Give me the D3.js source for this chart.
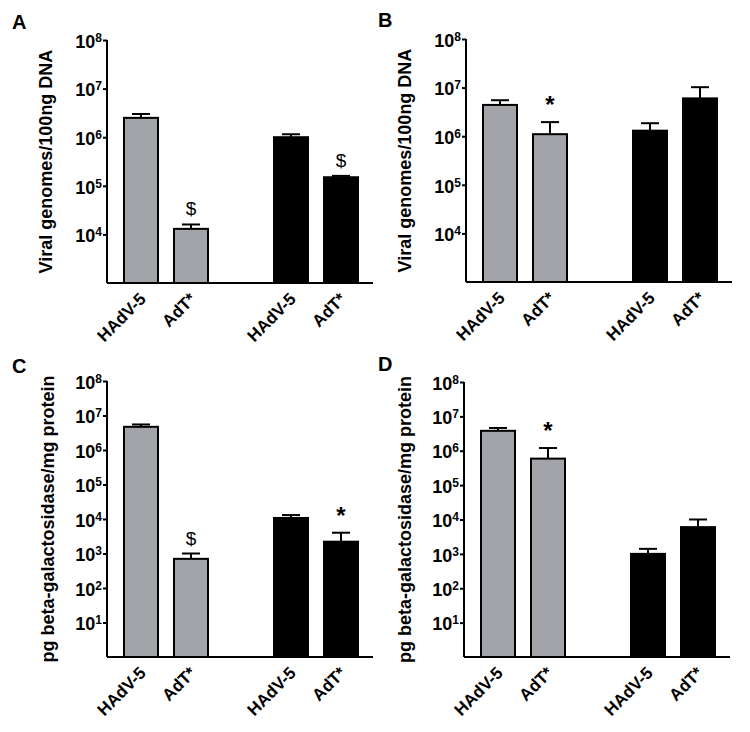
<!DOCTYPE html>
<html>
<head>
<meta charset="utf-8">
<script src="https://cdnjs.cloudflare.com/ajax/libs/d3/7.8.5/d3.min.js"></script>
<style>
  body { margin: 0; background: #fff; }
  svg text { font-family: "Liberation Sans", Arial, sans-serif; }
</style>
</head>
<body>
<svg id="fig" width="750" height="732"></svg>
<script>
// bar categories (two groups: grey then black)
const categories = ["HAdV-5", "AdT*"];
const groups = ["grey", "black"];

// panel A: viral genomes, first setting
const valuesA = [2.5e6, 1.3e4, 1.0e6, 1.5e5];
const errorsA = [3.0e6, 1.6e4, 1.15e6, 1.6e5];
const marksA = ["", "$", "", "$"];

// panel B: viral genomes, second setting
const valuesB = [4.4e6, 1.1e6, 1.3e6, 6.0e6];
const errorsB = [5.5e6, 1.95e6, 1.85e6, 1.02e7];
const marksB = ["", "*", "", ""];

// panel C: beta-galactosidase, first setting
const valuesC = [4.7e6, 700, 1.07e4, 2.2e3];
const errorsC = [5.5e6, 1000, 1.3e4, 4.0e3];
const marksC = ["", "$", "", "*"];

// panel D: beta-galactosidase, second setting
const valuesD = [3.8e6, 5.9e5, 1.0e3, 6.0e3];
const errorsD = [4.6e6, 1.2e6, 1.4e3, 1.0e4];
const marksD = ["", "*", "", ""];

const ticksGenomes = [1e4, 1e5, 1e6, 1e7, 1e8];
const ticksProtein = [1e1, 1e2, 1e3, 1e4, 1e5, 1e6, 1e7, 1e8];

const labelGenomes = "Viral genomes/100ng DNA";
const labelProtein = "pg beta-galactosidase/mg protein";

const fills = { grey: "#a3a3aa", black: "#000" };

const panels = [
  { letter: "A", lx: 12, ly: 29, axisX: 107, top: 40, bottom: 283, domain: [1e3, 1e8],
    values: valuesA, errors: errorsA, marks: marksA, ticks: ticksGenomes, label: labelGenomes, labelX: 46 },
  { letter: "B", lx: 378, ly: 27, axisX: 466, top: 39, bottom: 282, domain: [1e3, 1e8],
    values: valuesB, errors: errorsB, marks: marksB, ticks: ticksGenomes, label: labelGenomes, labelX: 405 },
  { letter: "C", lx: 12, ly: 373, axisX: 107, top: 381, bottom: 657, domain: [1, 1e8],
    values: valuesC, errors: errorsC, marks: marksC, ticks: ticksProtein, label: labelProtein, labelX: 48 },
  { letter: "D", lx: 378, ly: 371, axisX: 464, top: 382, bottom: 657, domain: [1, 1e8],
    values: valuesD, errors: errorsD, marks: marksD, ticks: ticksProtein, label: labelProtein, labelX: 405 }
];

const svg = d3.select("#fig");

panels.forEach(p => {
  const g = svg.append("g");

  // bar slots: two grey, an empty gap, two black
  const slots = [];
  groups.forEach((grp, gi) => {
    categories.forEach(c => slots.push(grp + "|" + c));
    if (gi === 0) slots.push("gap");
  });
  const x = d3.scaleBand()
    .domain(slots)
    .range([p.axisX + 9, p.axisX + 259])
    .paddingInner(0.32)
    .paddingOuter(0.16);

  const y = d3.scaleLog()
    .domain(p.domain)
    .range([p.bottom, p.top]);

  const data = [];
  groups.forEach((grp, gi) => {
    categories.forEach((c, ci) => {
      const i = gi * categories.length + ci;
      data.push({ key: grp + "|" + c, cat: c, grp: grp,
        value: p.values[i], err: p.errors[i], mark: p.marks[i] });
    });
  });

  // error bars (drawn first, bar covers lower part)
  const eb = g.selectAll(".err").data(data).enter().append("g");
  eb.append("line")
    .attr("x1", d => x(d.key) + x.bandwidth() / 2)
    .attr("x2", d => x(d.key) + x.bandwidth() / 2)
    .attr("y1", d => y(d.value))
    .attr("y2", d => y(d.err))
    .attr("stroke", "#000").attr("stroke-width", 2);
  eb.append("line")
    .attr("x1", d => x(d.key) + x.bandwidth() / 2 - 9)
    .attr("x2", d => x(d.key) + x.bandwidth() / 2 + 9)
    .attr("y1", d => y(d.err))
    .attr("y2", d => y(d.err))
    .attr("stroke", "#000").attr("stroke-width", 2);

  // bars
  g.selectAll(".bar").data(data).enter().append("rect")
    .attr("class", "bar")
    .attr("x", d => x(d.key))
    .attr("y", d => y(d.value))
    .attr("width", x.bandwidth())
    .attr("height", d => p.bottom - y(d.value))
    .attr("fill", d => fills[d.grp])
    .attr("stroke", "#000")
    .attr("stroke-width", 2);

  // significance marks
  g.selectAll(".mark").data(data.filter(d => d.mark)).enter().append("text")
    .attr("x", d => x(d.key) + x.bandwidth() / 2)
    .attr("y", d => y(d.err) - 9)
    .attr("text-anchor", "middle")
    .attr("font-family", d => d.mark === "$" ? "'DejaVu Sans', sans-serif" : null)
    .attr("font-size", d => d.mark === "$" ? 19 : 24)
    .attr("font-weight", d => d.mark === "*" ? "bold" : "normal")
    .text(d => d.mark);

  // y axis
  const yAxis = g.append("g")
    .attr("transform", "translate(" + p.axisX + ",0)")
    .call(d3.axisLeft(y).tickValues(p.ticks).tickSize(4).tickSizeOuter(0).tickFormat(""));
  yAxis.select(".domain").attr("stroke-width", 2).attr("d", "M0," + p.top + "V" + p.bottom);
  yAxis.selectAll(".tick line").attr("stroke-width", 2);
  yAxis.selectAll(".tick").append("text")
    .attr("x", -5)
    .attr("dy", "0.4em")
    .attr("text-anchor", "end")
    .attr("fill", "#000")
    .attr("font-size", 18)
    .attr("font-weight", "bold")
    .each(function (d) {
      const t = d3.select(this);
      t.append("tspan").text("10");
      t.append("tspan").attr("dy", "-0.5em").attr("font-size", 12).text(Math.round(Math.log10(d)));
    });

  // x axis
  const xAxis = g.append("g")
    .attr("transform", "translate(0," + p.bottom + ")")
    .call(d3.axisBottom(x).tickValues(slots.filter(s => s !== "gap")).tickSize(0).tickSizeOuter(0)
      .tickFormat(s => s.split("|")[1]));
  xAxis.select(".domain").attr("stroke-width", 2).attr("d", "M" + p.axisX + ",0H" + (p.axisX + 266));
  xAxis.selectAll("text")
    .attr("fill", "#000")
    .attr("font-size", 17)
    .attr("font-weight", "bold")
    .attr("text-anchor", "end")
    .attr("y", 0).attr("dy", 0)
    .attr("transform", "translate(6,17) rotate(-45)");

  // y axis title
  g.append("text")
    .attr("transform", "translate(" + p.labelX + "," + ((p.top + p.bottom) / 2) + ") rotate(-90)")
    .attr("text-anchor", "middle")
    .attr("dy", "0.35em")
    .attr("font-size", 18)
    .attr("font-weight", "bold")
    .text(p.label);

  // panel letter
  svg.append("text")
    .attr("x", p.lx).attr("y", p.ly)
    .attr("font-size", 20)
    .attr("font-weight", "bold")
    .text(p.letter);
});
</script>
</body>
</html>
